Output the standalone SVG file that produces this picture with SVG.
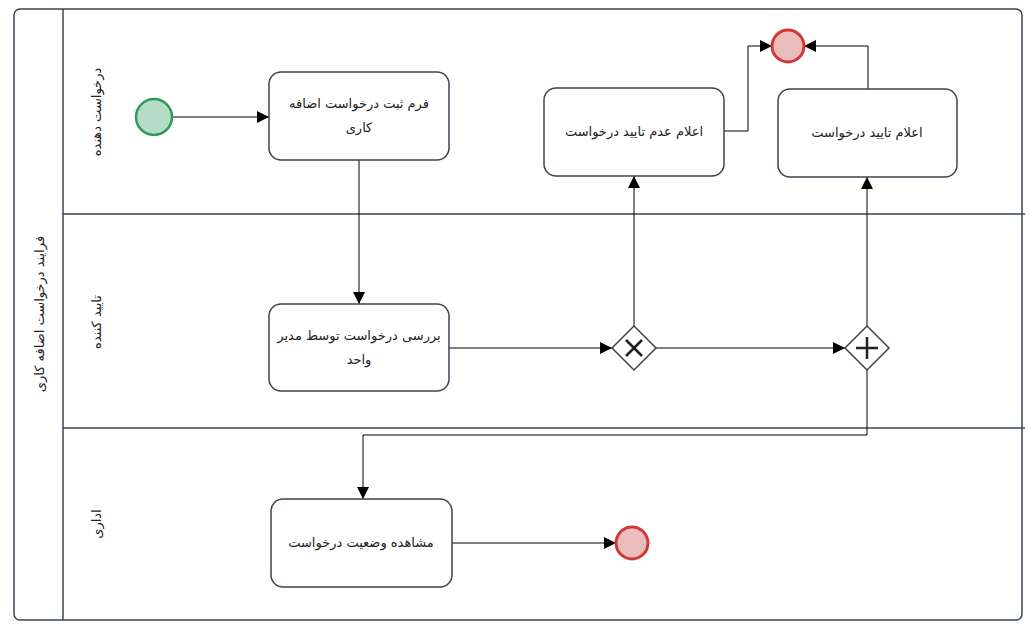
<svg xmlns="http://www.w3.org/2000/svg" width="1030" height="632" viewBox="0 0 1030 632">
<style>
.ln{stroke:#3a4452;stroke-width:1.5;fill:none}
.task{fill:#fff;stroke:#3a4452;stroke-width:1.5}
.c{stroke:#000;stroke-width:1;fill:none;marker-end:url(#ar)}
text{font-family:"DejaVu Sans","Noto Sans",sans-serif;font-size:13px;fill:#222;text-anchor:middle;direction:rtl}
</style>
<defs>
<marker id="ar" viewBox="0 0 10 10" refX="10" refY="5" markerWidth="12" markerHeight="12" markerUnits="userSpaceOnUse" orient="auto"><path d="M0,0L10,5L0,10z" fill="#000"/></marker>
</defs>
<rect width="1030" height="632" fill="#fff"/>
<g id="pool">
<rect x="14" y="9" width="1008" height="611" rx="6" class="ln"/>
<line x1="63" y1="9" x2="63" y2="620" class="ln"/>
<line x1="63" y1="214" x2="1025" y2="214" class="ln"/>
<line x1="63" y1="428" x2="1025" y2="428" class="ln"/>
<text transform="translate(44,314) rotate(-90)">فرایند درخواست اضافه کاری</text>
<text transform="translate(101,112) rotate(-90)">درخواست دهنده</text>
<text transform="translate(101,322) rotate(-90)">تایید کننده</text>
<text transform="translate(101,524) rotate(-90)">اداری</text>
</g>
<g id="connectors">
<path class="c" d="M172,117H269"/>
<path class="c" d="M359,160V304"/>
<path class="c" d="M449,348H612"/>
<path class="c" d="M656,348H845"/>
<path class="c" d="M634,326V176"/>
<path class="c" d="M867,326V177"/>
<path class="c" d="M867,370V435H363V499"/>
<path class="c" d="M724,131H748V46H772"/>
<path class="c" d="M868,89V46H804"/>
<path class="c" d="M452,543H616"/>
</g>
<g id="start"><circle cx="154" cy="117" r="18" fill="#b5dcc6" stroke="#2e9a5a" stroke-width="2.5"/></g>
<g id="task1"><rect x="269" y="72" width="180" height="88" rx="12" class="task"/><text x="359" y="108">فرم ثبت درخواست اضافه</text><text x="359" y="132">کاری</text></g>
<g id="task2"><rect x="269" y="304" width="180" height="87" rx="12" class="task"/><text x="359" y="340">بررسی درخواست توسط مدیر</text><text x="359" y="364">واحد</text></g>
<g id="task3"><rect x="544" y="88" width="180" height="88" rx="12" class="task"/><text x="634" y="136">اعلام عدم تایید درخواست</text></g>
<g id="task4"><rect x="778" y="89" width="179" height="88" rx="12" class="task"/><text x="867" y="137">اعلام تایید درخواست</text></g>
<g id="task5"><rect x="271" y="499" width="181" height="88" rx="12" class="task"/><text x="361" y="547">مشاهده وضعیت درخواست</text></g>
<g id="endTop"><circle cx="788" cy="46" r="16" fill="#ebbcbc" stroke="#d23737" stroke-width="3"/></g>
<g id="endBottom"><circle cx="632" cy="543" r="16" fill="#ebbcbc" stroke="#d23737" stroke-width="3"/></g>
<g id="xor"><path d="M634,326L656,348L634,370L612,348z" class="task"/><path d="M626,340L642,356M642,340L626,356" stroke="#222" stroke-width="2.5"/></g>
<g id="parallel"><path d="M867,326L889,348L867,370L845,348z" class="task"/><path d="M867,337V359M856,348H878" stroke="#222" stroke-width="2.5"/></g>
</svg>
